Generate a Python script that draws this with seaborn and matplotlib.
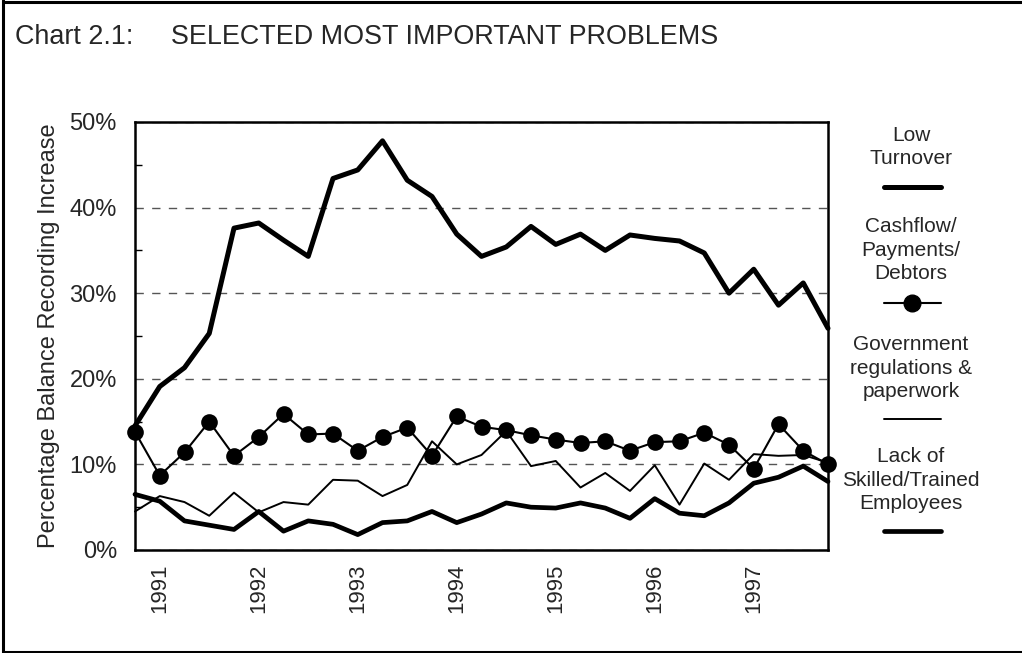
import numpy as np
import pandas as pd
import matplotlib
matplotlib.use("Agg")
import matplotlib.pyplot as plt
import seaborn as sns
from matplotlib.lines import Line2D
from matplotlib.ticker import FixedLocator, MultipleLocator

# quarterly survey points, 1990 Q4 .. 1997 Q4
quarters = ["1990Q4",
            "1991Q1", "1991Q2", "1991Q3", "1991Q4",
            "1992Q1", "1992Q2", "1992Q3", "1992Q4",
            "1993Q1", "1993Q2", "1993Q3", "1993Q4",
            "1994Q1", "1994Q2", "1994Q3", "1994Q4",
            "1995Q1", "1995Q2", "1995Q3", "1995Q4",
            "1996Q1", "1996Q2", "1996Q3", "1996Q4",
            "1997Q1", "1997Q2", "1997Q3", "1997Q4"]

low_turnover = [14.5, 19.1, 21.3, 25.3, 37.6, 38.2, 36.2, 34.3, 43.4, 44.4,
                47.8, 43.2, 41.3, 36.9, 34.3, 35.4, 37.8, 35.7, 36.9, 35.0,
                36.8, 36.4, 36.1, 34.7, 30.0, 32.8, 28.6, 31.2, 25.9]
cashflow = [13.8, 8.7, 11.4, 15.0, 11.0, 13.2, 15.9, 13.5, 13.6, 11.6,
            13.2, 14.3, 11.0, 15.6, 14.4, 14.0, 13.4, 12.9, 12.5, 12.7,
            11.6, 12.6, 12.7, 13.7, 12.3, 9.5, 14.7, 11.6, 10.0]
gov_regs = [4.5, 6.3, 5.6, 4.0, 6.7, 4.4, 5.6, 5.3, 8.2, 8.1,
            6.3, 7.6, 12.7, 10.0, 11.1, 13.9, 9.8, 10.4, 7.3, 9.0,
            6.9, 9.9, 5.3, 10.1, 8.2, 11.2, 11.0, 11.1, 10.2]
skilled = [6.5, 5.7, 3.4, 2.9, 2.4, 4.5, 2.2, 3.4, 3.0, 1.8,
           3.2, 3.4, 4.5, 3.2, 4.2, 5.5, 5.0, 4.9, 5.5, 4.9,
           3.7, 6.0, 4.3, 4.0, 5.5, 7.8, 8.5, 9.8, 8.0]

sns.set_style("white")
plt.rcParams['font.family'] = ['Liberation Sans', 'DejaVu Sans']
plt.rcParams['ytick.direction'] = 'in'

df = pd.DataFrame({"quarter": quarters, "pos": np.arange(len(quarters)),
                   "low": low_turnover, "cash": cashflow,
                   "gov": gov_regs, "skill": skilled})

fig = plt.figure(figsize=(10.22, 6.53), dpi=100)
ax = fig.add_axes([135 / 1022, 1 - 550 / 653, 693 / 1022, 428 / 653])

sns.lineplot(data=df, x="pos", y="low", ax=ax, color="black", linewidth=3.6,
             clip_on=False)
sns.lineplot(data=df, x="pos", y="cash", ax=ax, color="black", linewidth=1.5,
             marker="o", markersize=12, markeredgewidth=0, clip_on=False)
sns.lineplot(data=df, x="pos", y="gov", ax=ax, color="black", linewidth=1.4,
             clip_on=False)
sns.lineplot(data=df, x="pos", y="skill", ax=ax, color="black", linewidth=3.4,
             clip_on=False)

ax.set_xlim(0, len(quarters) - 1)
ax.set_ylim(0, 50)

# x ticks at every quarter, year label on each Q1
ax.xaxis.set_major_locator(FixedLocator(df["pos"].tolist()))
xt = [q[:4] if q.endswith("Q1") else "" for q in quarters]
ax.set_xticklabels(xt, rotation=90, fontsize=16)
ax.tick_params(axis="x", direction="inout", length=14, width=1.5,
               color="black", pad=3)

ax.yaxis.set_major_locator(MultipleLocator(10))
ax.yaxis.set_minor_locator(MultipleLocator(5))
ax.set_yticklabels([f"{int(v)}%" for v in ax.get_yticks()], fontsize=17)
ax.tick_params(axis="y", which="major", length=0, pad=13)
ax.tick_params(axis="y", which="minor", direction="in", length=5,
               width=1, color="black", left=True)
ax.yaxis.grid(True, linestyle=(0, (6, 6)), color="#555555", linewidth=1)
ax.xaxis.grid(False)

for s in ax.spines.values():
    s.set_color("black")
    s.set_linewidth(1.8)

ax.set_xlabel("")
ax.set_ylabel("Percentage Balance Recording Increase", fontsize=17)
ax.yaxis.set_label_coords(-0.124, 0.5)
ax.yaxis.label.set_va("center")

fig.text(15 / 1022, 1 - 37 / 653,
         "Chart 2.1:     SELECTED MOST IMPORTANT PROBLEMS",
         fontsize=19.4, ha="left", va="center")

# legend drawn as stacked captions with a sample line under each
legend_items = [
    ("Low\nTurnover", 147, 187, dict(linewidth=3.6)),
    ("Cashflow/\nPayments/\nDebtors", 250, 303,
     dict(linewidth=1.5, marker="o", markersize=12, markevery=[1])),
    ("Government\nregulations &\npaperwork", 368, 419, dict(linewidth=1.4)),
    ("Lack of\nSkilled/Trained\nEmployees", 480, 531, dict(linewidth=3.4)),
]
for label, ty, ly, style in legend_items:
    fig.text(911 / 1022, 1 - ty / 653, label, fontsize=15, ha="center",
             va="center", linespacing=1.3)
    fig.add_artist(Line2D([884 / 1022, 912 / 1022, 941 / 1022],
                          [1 - ly / 653] * 3, color="black",
                          transform=fig.transFigure, **style))

# outer frame
for xs, ys in [([3 / 1022, 3 / 1022], [0, 1]),
               ([3 / 1022, 1], [1 - 1.5 / 653] * 2),
               ([3 / 1022, 1], [1.5 / 653] * 2)]:
    fig.add_artist(Line2D(xs, ys, color="black", linewidth=2.2,
                          transform=fig.transFigure))

fig.savefig("out.png", dpi=100)
